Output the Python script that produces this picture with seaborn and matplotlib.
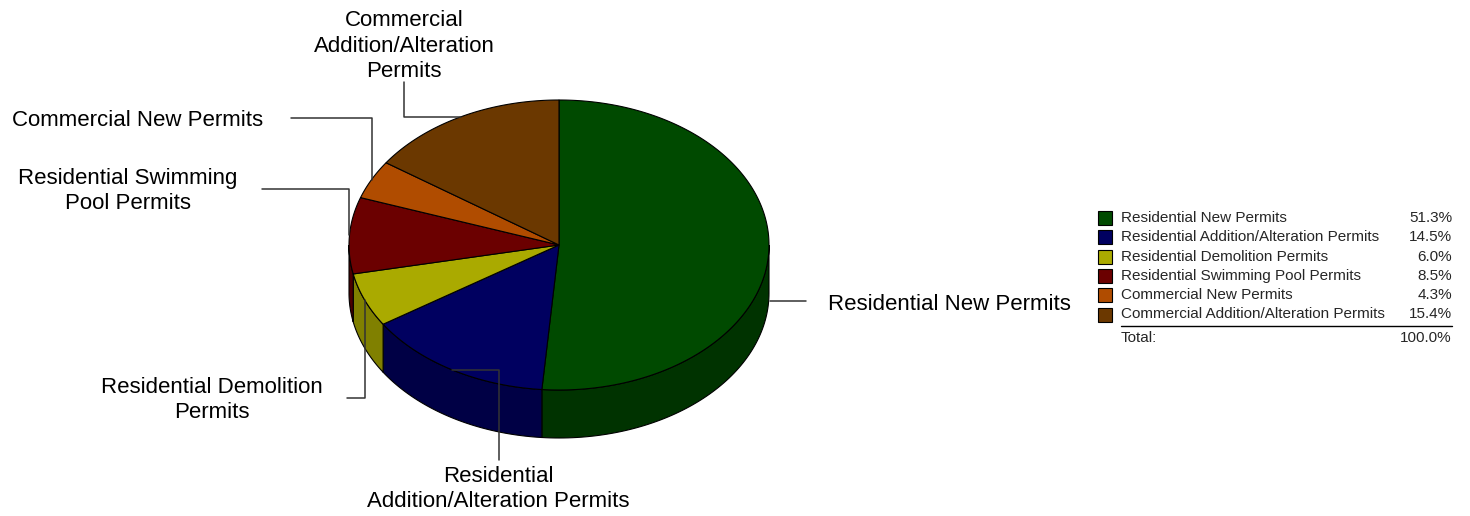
import numpy as np
import matplotlib.pyplot as plt
import seaborn as sns

# 数据
categories = ['Residential New Permits', 'Residential Addition/Alteration Permits',
              'Residential Demolition Permits', 'Residential Swimming Pool Permits',
              'Commercial New Permits', 'Commercial Addition/Alteration Permits']
shares = [51.3, 14.5, 6.0, 8.5, 4.3, 15.4]
pie_labels = ['Residential New Permits', 'Residential\nAddition/Alteration Permits',
              'Residential Demolition\nPermits', 'Residential Swimming\nPool Permits',
              'Commercial New Permits', 'Commercial\nAddition/Alteration\nPermits']
top_colors = ['#004a00', '#000060', '#aaaa00', '#6b0000', '#b04c00', '#6b3800']
side_colors = ['#003300', '#000045', '#808000', '#4a0000', '#7a3500', '#4a2700']

sns.set_style('white')
plt.rcParams['font.family'] = ['Liberation Sans', 'DejaVu Sans']

# 饼图几何（像素坐标）
cx, cy, rx, ry, depth = 559, 245, 210, 145, 48

def ell(theta, dy=0):
    t = np.radians(theta)
    return cx + rx * np.sin(t), cy - ry * np.cos(t) + dy

fig = plt.figure(figsize=(14.7, 5.16), dpi=100)
ax = fig.add_axes([0, 0, 1, 1])
ax.set_xlim(0, 1470)
ax.set_ylim(516, 0)
ax.axis('off')

bounds = np.concatenate([[0], np.cumsum(shares) / sum(shares) * 360])

# 侧面（只画前半部分 90°~270°）
for i in range(len(shares)):
    a1, a2 = max(bounds[i], 90), min(bounds[i + 1], 270)
    if a2 <= a1:
        continue
    th = np.linspace(a1, a2, 80)
    xt, yt = ell(th)
    xb, yb = ell(th[::-1], depth)
    ax.fill(np.concatenate([xt, xb]), np.concatenate([yt, yb]),
            facecolor=side_colors[i], edgecolor='black', lw=0.8, zorder=1)

# 顶面
for i in range(len(shares)):
    th = np.linspace(bounds[i], bounds[i + 1], 200)
    xs, ys = ell(th)
    ax.fill(np.concatenate([[cx], xs]), np.concatenate([[cy], ys]),
            facecolor=top_colors[i], edgecolor='black', lw=0.8, zorder=2)

# 标签和引线
mids = [(bounds[i] + bounds[i + 1]) / 2 for i in range(len(shares))]
label_pos = [(828, 304, 'left'), (498, 489, 'center'), (212, 400, 'center'),
             (128, 191, 'center'), (138, 121, 'center'), (404, 46, 'center')]
leader = [('h', 806, 301), ('hv', 499, 460), ('vh', 347, 398),
          ('vh', 262, 189), ('vh', 291, 118), ('hv', 404, 82)]
for i in range(len(shares)):
    mx, my = ell(mids[i])
    kind, ex, ey = leader[i]
    if kind == 'h':
        xs, ys = [770, ex], [ey, ey]
    elif kind == 'vh':
        xs, ys = [mx, mx, ex], [my, ey, ey]
    else:
        xs, ys = [mx, ex, ex], [my, my, ey]
    ax.plot(xs, ys, color='#333333', lw=1.1, zorder=3)
    tx, ty, ha = label_pos[i]
    ax.text(tx, ty, pie_labels[i], ha=ha, va='center', fontsize=16,
            linespacing=1.27, color='black')

# 图例
row_y = 218
row_h = 19.3
for i, name in enumerate(categories):
    y = row_y + i * row_h
    ax.add_patch(plt.Rectangle((1098, y - 7), 14, 14, facecolor=top_colors[i],
                               edgecolor='black', lw=0.8))
    ax.text(1121, y, name, ha='left', va='center', fontsize=11)
    ax.text(1452, y, f'{shares[i]:.1f}%', ha='right', va='center', fontsize=11)
y_line = row_y + 5 * row_h + 11
ax.plot([1121, 1452], [y_line, y_line], color='black', lw=1)
ax.text(1121, y_line + 13, 'Total:', ha='left', va='center', fontsize=11)
ax.text(1452, y_line + 13, f'{sum(shares):.1f}%', ha='right', va='center', fontsize=11)

fig.savefig('out.png', dpi=100, facecolor='white')
